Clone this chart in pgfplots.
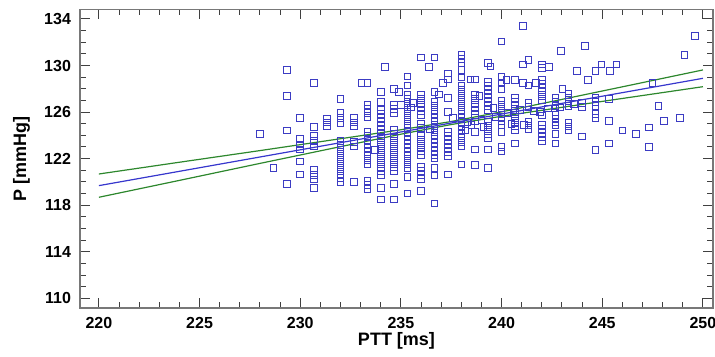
\documentclass[border=0pt]{standalone}
\usepackage{pgfplots}
\pgfplotsset{compat=1.18}
\usepackage{fontspec}
\setmainfont{Liberation Sans}[BoldFont={Liberation Sans Bold}]
\definecolor{ptblue}{RGB}{60,60,195}
\definecolor{lnblue}{RGB}{55,55,205}
\definecolor{lngreen}{RGB}{45,135,45}
\definecolor{axgray}{RGB}{120,120,120}
\begin{document}
\begin{tikzpicture}
\begin{axis}[
  scale only axis,
  width=316.5pt, height=149.2pt,
  xmin=219.06, xmax=250.5,
  ymin=109.19, ymax=134.83,
  xtick={220,225,...,250},
  ytick={110,114,...,134},
  minor x tick num=4,
  minor y tick num=3,
  tick align=inside,
  major tick length=5pt,
  minor tick length=2.8pt,
  axis line style={axgray, line width=0.8pt},
  every tick/.style={black!75, line width=0.5pt},
  xticklabel={\textbf{\pgfmathprintnumber[assume math mode=true]{\tick}}},
  yticklabel={\textbf{\pgfmathprintnumber[assume math mode=true]{\tick}}},
  tick label style={font=\fontsize{8}{9.6}\selectfont\bfseries},
  /pgf/number format/assume math mode=true,
  yticklabel style={xshift=-1.0pt},
  xticklabel style={yshift=-1.2pt},
  every axis x label/.style={at={(axis description cs:0.5,0)}, anchor=center, yshift=-16.4pt},
  every axis y label/.style={at={([xshift=-29.25pt]axis description cs:0,0.5)}, rotate=90, anchor=center},
  label style={font=\fontsize{9}{11}\selectfont\bfseries},
  xlabel={\textbf{PTT [ms]}},
  ylabel={\textbf{P [mmHg]}},
  clip=true,
]
\addplot[only marks, mark=square, mark size=1.65pt, mark options={ptblue, line width=0.5pt}] coordinates {
(228.00,124.1)
(228.67,121.2)
(229.33,129.6)(229.33,127.4)(229.33,124.4)(229.33,119.8)
(230.00,125.5)(230.00,123.7)(230.00,123.2)(230.00,122.8)(230.00,121.75)(230.00,120.65)
(230.67,128.5)(230.67,124.7)(230.67,123.95)(230.67,123.5)(230.67,123.05)(230.67,121.0)(230.67,120.6)(230.67,120.2)(230.67,119.5)
(231.33,125.45)(231.33,125.1)(231.33,124.75)
(232.00,127.1)(232.00,125.9)(232.00,125.5)(232.00,125.05)(232.00,123.5)(232.00,123.15)(232.00,122.8)(232.00,122.45)(232.00,122.1)(232.00,121.75)(232.00,121.4)(232.00,121.05)(232.00,120.7)(232.00,120.35)(232.00,120.0)
(232.67,125.5)(232.67,125.1)(232.67,124.75)(232.67,123.45)(232.67,123.05)(232.67,120.0)
(233.05,128.5)
(233.33,128.5)(233.33,126.6)(233.33,126.25)(233.33,125.9)(233.33,125.55)(233.33,124.3)(233.33,123.95)(233.33,123.6)(233.33,123.25)(233.33,122.9)(233.33,122.55)(233.33,122.2)(233.33,121.85)(233.33,121.5)(233.33,120.1)(233.33,119.75)(233.33,119.4)
(233.7,122.75)
(234.2,129.85)
(234.00,127.7)(234.00,126.85)(234.00,126.2)(234.00,125.85)(234.00,125.5)(234.00,125.15)(234.00,124.8)(234.00,124.45)(234.00,124.1)(234.00,123.75)(234.00,123.4)(234.00,123.05)(234.00,122.7)(234.00,122.35)(234.00,122.0)(234.00,121.65)(234.00,121.3)(234.00,120.95)(234.00,120.6)(234.00,119.5)(234.00,118.5)
(234.67,128.0)(234.67,126.6)(234.67,126.25)(234.67,125.9)(234.67,124.45)(234.67,124.1)(234.67,123.75)(234.67,123.4)(234.67,123.05)(234.67,122.7)(234.67,122.35)(234.67,122.0)(234.67,121.65)(234.67,121.3)(234.67,120.95)(234.67,119.8)(234.67,118.5)
(234.9,127.7)(235.0,126.6)
(235.33,129.05)(235.33,128.27)(235.33,127.45)(235.33,127.1)(235.33,126.75)(235.33,126.4)(235.33,126.05)(235.33,125.7)(235.33,125.35)(235.33,125.0)(235.33,124.65)(235.33,124.3)(235.33,123.95)(235.33,123.6)(235.33,123.25)(235.33,122.9)(235.33,122.55)(235.33,122.2)(235.33,121.85)(235.33,121.5)(235.33,121.15)(235.33,120.4)(235.33,119.0)
(235.6,126.8)(235.5,126.4)
(236.00,130.7)(236.00,127.5)(236.00,127.15)(236.00,126.8)(236.00,126.45)(236.00,126.1)(236.00,125.75)(236.00,125.0)(236.00,124.65)(236.00,124.0)(236.00,123.65)(236.00,123.3)(236.00,122.95)(236.00,122.6)(236.00,122.3)(236.00,121.3)(236.00,120.95)(236.00,120.6)(236.00,120.25)(236.00,119.2)
(236.4,129.85)
(236.67,130.7)(236.67,127.7)(236.67,126.9)(236.67,126.55)(236.67,126.2)(236.67,125.85)(236.67,125.5)(236.67,125.2)(236.67,124.75)(236.67,124.4)(236.67,124.05)(236.67,123.7)(236.67,123.35)(236.67,123.0)(236.67,122.65)(236.67,122.3)(236.67,122.0)(236.67,121.2)(236.67,120.55)(236.67,118.15)
(236.9,127.5)(236.45,124.5)
(237.33,129.3)(237.33,128.8)(237.33,127.2)(237.33,126.0)(237.33,124.3)(237.33,123.95)(237.33,123.6)(237.33,123.25)(237.33,122.9)(237.33,122.55)(237.33,122.2)(237.33,120.65)
(237.6,125.5)(237.1,128.5)
(238.00,130.9)(238.00,130.55)(238.00,130.2)(238.00,129.6)(238.00,128.96)(238.00,128.3)(238.00,127.95)(238.00,127.6)(238.00,127.25)(238.00,126.9)(238.00,126.55)(238.00,126.2)(238.00,125.85)(238.00,125.5)(238.00,125.15)(238.00,124.8)(238.00,124.45)(238.00,124.1)(238.00,123.75)(238.00,123.4)(238.00,123.05)(238.00,121.5)
(238.67,128.8)(238.67,127.5)(238.67,127.15)(238.67,126.8)(238.67,126.45)(238.67,126.1)(238.67,125.75)(238.67,125.2)(238.67,124.3)(238.67,122.8)(238.67,121.45)
(238.45,128.8)(238.9,127.4)
(239.33,130.2)(239.33,128.6)(239.33,128.25)(239.33,127.9)(239.33,127.55)(239.33,127.2)(239.33,126.85)(239.33,126.5)(239.33,126.2)(239.33,125.2)(239.33,124.85)(239.33,124.5)(239.33,124.1)(239.33,123.75)(239.33,122.8)(239.33,121.2)
(239.45,129.9)(239.6,126.33)
(240.00,132.05)(240.00,129.0)(240.00,128.5)(240.00,128.0)(240.00,127.0)(240.00,126.65)(240.00,126.3)(240.00,125.95)(240.00,125.6)(240.00,125.25)(240.00,124.9)(240.00,124.3)(240.00,123.0)(240.00,122.6)
(240.25,128.76)
(240.67,128.76)(240.67,127.2)(240.67,126.85)(240.67,126.5)(240.67,126.15)(240.67,125.8)(240.67,125.45)(240.67,125.1)(240.67,124.75)(240.67,124.46)(240.67,123.3)
(241.05,133.4)(241.05,130.1)(241.05,128.5)
(241.33,130.45)(241.33,128.27)(241.33,126.8)(241.33,126.45)(241.33,125.2)(241.33,124.85)(241.33,124.5)
(242.00,130.1)(242.00,129.8)(242.00,128.76)(242.00,128.4)(242.00,128.05)(242.00,127.7)(242.00,127.35)(242.00,127.0)(242.00,125.7)(242.00,124.9)(242.00,124.55)(242.00,124.2)(242.00,123.85)(242.00,123.5)
(242.35,129.85)(241.7,128.5)
(242.95,131.25)
(242.67,127.2)(242.67,126.85)(242.67,126.5)(242.67,125.75)(242.67,125.4)(242.67,125.1)(242.67,124.9)(242.67,124.1)(242.67,123.3)
(243.03,128.0)
(243.33,127.6)(243.33,127.25)(243.33,126.9)(243.33,126.5)(243.33,125.1)(243.33,124.75)(243.33,124.4)
(243.75,129.55)(244.15,131.7)(244.3,128.76)
(244.00,126.8)(244.00,126.45)(244.00,123.9)
(244.67,129.55)(244.67,127.2)(244.67,126.85)(244.67,126.5)(244.67,125.85)(244.67,125.5)(244.67,122.75)
(244.97,130.1)
(245.38,129.55)(245.33,127.1)(245.33,125.25)(245.33,123.3)
(245.7,130.1)
(246.00,124.4)
(246.67,124.1)
(247.33,124.67)(247.33,123.0)
(247.5,128.5)(247.8,126.5)(248.07,125.25)(248.86,125.5)(249.08,130.9)(249.6,132.55)
(238.3,125.1)(238.5,124.9)(239.0,125.3)(239.7,125.6)(240.3,125.9)(240.9,126.2)(241.6,126.1)(241.9,126.0)(242.3,126.3)(242.9,126.4)(243.6,126.7)(239.1,124.7)(238.2,124.4)(240.5,125.0)(241.1,124.9)
};
\addplot[lngreen, line width=0.6pt] coordinates {(220,120.68)(224,121.69)(228,122.69)(232,123.71)(235,124.48)(237.5,125.19)(240,126.02)(243,127.09)(246,128.17)(250,129.62)};
\addplot[lngreen, line width=0.6pt] coordinates {(220,118.68)(224,120.13)(228,121.59)(232,123.03)(235,124.10)(237.5,124.93)(240,125.64)(243,126.41)(246,127.17)(250,128.18)};
\addplot[lnblue, line width=0.6pt] coordinates {(220,119.68)(224,120.91)(228,122.14)(232,123.37)(235,124.29)(237.5,125.06)(240,125.83)(243,126.75)(246,127.67)(250,128.90)};
\end{axis}
\pgfresetboundingbox
\path[use as bounding box] ([xshift=-40pt,yshift=-24.15pt]current axis.south west) rectangle ([xshift=1pt,yshift=4.65pt]current axis.north east);
\end{tikzpicture}
\end{document}
